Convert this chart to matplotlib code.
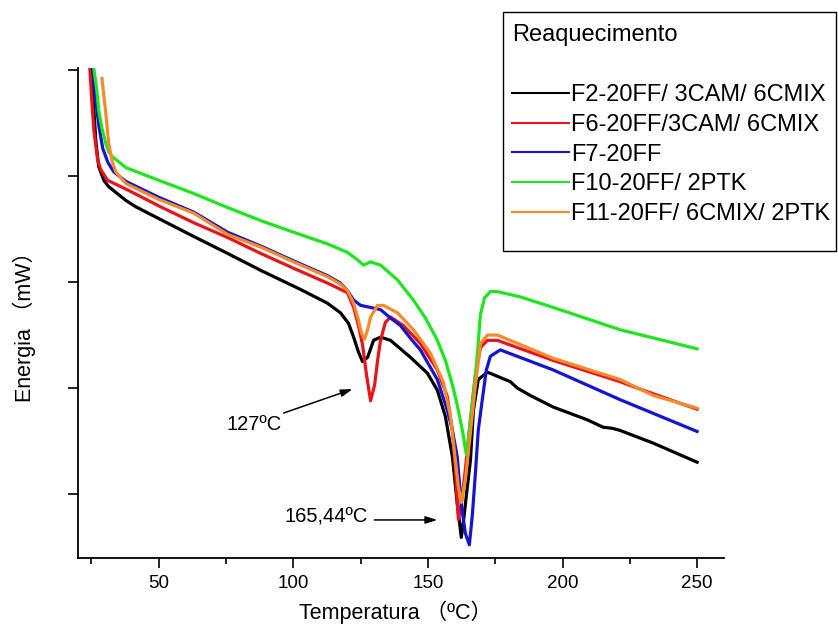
"""
Reaquecimento DSC curves (energia vs temperatura).
"""

import matplotlib
matplotlib.use("Agg")
import matplotlib.pyplot as plt
from matplotlib.lines import Line2D
from matplotlib.patches import Rectangle
from matplotlib.ticker import MultipleLocator, NullFormatter

plt.rcParams["font.family"] = ["Liberation Sans", "Noto Sans CJK SC"]

labels = [
    "F2-20FF/ 3CAM/ 6CMIX",
    "F6-20FF/3CAM/ 6CMIX",
    "F7-20FF",
    "F10-20FF/ 2PTK",
    "F11-20FF/ 6CMIX/ 2PTK",
]
colors = ["#000000", "#e8141c", "#1414d2", "#1ee61e", "#f58a2a"]

# F2-20FF/ 3CAM/ 6CMIX
t_f2 = [24.8, 25.9, 26.6, 27.7, 29.6, 31.4, 37.8, 41.5, 50.7, 63.0, 75.6, 87.9,
        102.7, 112.7, 117.5, 120.5, 122.4, 124.2, 125.7, 127.6, 129.8, 132.4,
        136.1, 143.5, 149.8, 153.5, 156.5, 159.1, 160.9, 162.4, 163.2, 164.3,
        165.8, 166.9, 168.7, 172.1, 180.6, 183.2, 188.0, 196.6, 209.2, 215.1,
        218.5, 221.4, 233.7, 250.0]
e_f2 = [4.01, 3.62, 3.34, 3.09, 2.96, 2.90, 2.77, 2.71, 2.59, 2.43, 2.27, 2.11,
        1.93, 1.80, 1.71, 1.61, 1.48, 1.34, 1.25, 1.29, 1.45, 1.48,
        1.45, 1.29, 1.14, 0.98, 0.73, 0.35, -0.09, -0.41, -0.26, -0.01,
        0.32, 0.79, 1.08, 1.15, 1.06, 1.00, 0.93, 0.82, 0.70, 0.63,
        0.62, 0.60, 0.48, 0.30]

# F6-20FF/3CAM/ 6CMIX
t_f6 = [24.4, 25.1, 25.9, 27.3, 28.5, 31.0, 38.4, 50.7, 63.0, 75.6, 87.9, 100.1,
        112.7, 120.1, 122.4, 124.2, 125.7, 127.2, 128.7, 130.2, 131.3, 132.4,
        134.2, 136.1, 140.9, 147.2, 153.5, 157.2, 159.1, 160.2, 161.3, 162.4,
        163.9, 165.8, 167.6, 169.5, 172.1, 175.8, 196.6, 221.4, 227.7, 250.0]
e_f6 = [4.02, 3.72, 3.43, 3.15, 3.06, 2.96, 2.87, 2.71, 2.56, 2.42, 2.27, 2.13,
        1.99, 1.90, 1.76, 1.59, 1.41, 1.12, 0.88, 1.03, 1.26, 1.45,
        1.62, 1.67, 1.59, 1.42, 1.17, 0.92, 0.60, 0.23, -0.24, -0.10,
        0.23, 0.70, 1.12, 1.38, 1.45, 1.45, 1.26, 1.06, 1.00, 0.80]

# F7-20FF
t_f7 = [25.5, 26.6, 27.7, 29.2, 31.1, 33.3, 37.8, 50.0, 63.0, 75.6, 87.9, 100.1,
        112.7, 117.5, 120.1, 122.4, 125.0, 128.7, 132.4, 136.1, 139.8, 143.5,
        147.2, 153.5, 157.2, 159.1, 160.9, 162.4, 163.9, 165.4, 166.5, 167.6,
        168.7, 170.2, 171.7, 173.2, 176.9, 196.6, 221.4, 250.0]
e_f7 = [4.01, 3.72, 3.48, 3.26, 3.13, 3.04, 2.95, 2.80, 2.66, 2.47, 2.34, 2.20,
        2.06, 1.99, 1.92, 1.83, 1.78, 1.76, 1.74, 1.66, 1.59, 1.47,
        1.36, 1.08, 0.79, 0.60, 0.35, -0.10, -0.37, -0.48, -0.20, 0.18,
        0.60, 0.89, 1.17, 1.30, 1.36, 1.17, 0.89, 0.59]

# F10-20FF/ 2PTK
t_f10 = [25.9, 27.0, 27.7, 28.9, 30.3, 31.4, 32.9, 37.8, 50.0, 62.6, 74.9, 87.9,
         100.1, 112.7, 120.1, 123.8, 126.1, 128.7, 132.4, 138.7, 144.6, 149.1,
         153.5, 156.5, 159.1, 160.9, 162.8, 164.3, 165.0, 165.8, 167.3, 168.4,
         169.5, 171.0, 173.2, 175.8, 184.3, 196.6, 221.4, 250.0]
e_f10 = [4.01, 3.81, 3.62, 3.45, 3.31, 3.23, 3.18, 3.08, 2.96, 2.84, 2.71, 2.58,
         2.47, 2.36, 2.28, 2.21, 2.16, 2.19, 2.16, 2.02, 1.83, 1.66,
         1.45, 1.26, 1.03, 0.84, 0.60, 0.37, 0.51, 0.70, 1.03, 1.33,
         1.69, 1.85, 1.91, 1.91, 1.86, 1.76, 1.55, 1.37]

# F11-20FF/ 6CMIX/ 2PTK
t_f11 = [28.9, 29.6, 30.3, 31.4, 32.6, 34.0, 37.8, 50.0, 63.0, 75.6, 87.9, 100.1,
         112.7, 117.5, 120.1, 122.4, 124.2, 125.3, 126.4, 127.6, 128.7, 131.3,
         133.5, 138.7, 144.6, 150.9, 155.8, 158.4, 160.2, 161.3, 162.4, 163.9,
         165.0, 166.5, 167.6, 169.5, 172.1, 175.8, 196.6, 221.4, 233.7, 250.0]
e_f11 = [3.92, 3.76, 3.60, 3.31, 3.15, 3.04, 2.93, 2.78, 2.65, 2.45, 2.33, 2.19,
         2.05, 1.98, 1.92, 1.80, 1.64, 1.52, 1.46, 1.55, 1.67, 1.78,
         1.78, 1.71, 1.55, 1.33, 1.05, 0.73, 0.32, 0.07, -0.08, 0.13,
         0.39, 0.75, 1.01, 1.42, 1.50, 1.50, 1.28, 1.08, 0.93, 0.81]

series_t = [t_f2, t_f6, t_f7, t_f10, t_f11]
series_e = [e_f2, e_f6, e_f7, e_f10, e_f11]

fig = plt.figure(figsize=(8.38, 6.33), dpi=100)
ax = fig.add_axes([78 / 838, 1 - 558 / 633, 646 / 838, 490 / 633])

for t, e, c in zip(series_t, series_e, colors):
    ax.plot(t, e, color=c, linewidth=2.3, solid_joinstyle="round")

ax.set_xlim(20, 260)
ax.set_ylim(-0.604, 4.02)
ax.spines["top"].set_visible(False)
ax.spines["right"].set_visible(False)
for s in ("left", "bottom"):
    ax.spines[s].set_linewidth(1.3)

ax.xaxis.set_major_locator(MultipleLocator(50))
ax.xaxis.set_minor_locator(MultipleLocator(25))
ax.yaxis.set_major_locator(MultipleLocator(2))
ax.yaxis.set_minor_locator(MultipleLocator(1))
ax.yaxis.set_major_formatter(NullFormatter())
ax.tick_params(axis="x", which="major", length=7, width=1.2, labelsize=13.5, pad=5)
ax.tick_params(axis="x", which="minor", length=4, width=1.2)
ax.tick_params(axis="y", which="both", length=7, width=1.2)

fig.text(395 / 838, 1 - 612 / 633, "Temperatura （ºC）", fontsize=15.5,
         ha="center", va="center")
fig.text(24 / 838, 1 - 322 / 633, "Energia （mW）", fontsize=15.5,
         ha="center", va="center", rotation=90)

# peak annotations
ax.text(85.3, 0.66, "127ºC", fontsize=14.5, ha="center", va="center")
ax.annotate("", xy=(122.0, 0.99), xytext=(96.4, 0.764),
            arrowprops=dict(arrowstyle="-|>,head_length=0.7,head_width=0.22",
                            color="black", lw=1.1, shrinkA=0, shrinkB=0))
ax.text(112.3, -0.217, "165,44ºC", fontsize=14.5, ha="center", va="center")
ax.annotate("", xy=(153.5, -0.245), xytext=(130.1, -0.245),
            arrowprops=dict(arrowstyle="-|>,head_length=0.7,head_width=0.22",
                            color="black", lw=1.1, shrinkA=0, shrinkB=0))

# legend box drawn separately so its height matches the original
fig.add_artist(Rectangle((503 / 838, 1 - 251 / 633), 333 / 838, 239 / 633,
                         transform=fig.transFigure, fill=False,
                         edgecolor="black", linewidth=1.0))
handles = [Line2D([], [], color="none")]
handles += [Line2D([], [], color=c, linewidth=1.5) for c in colors]
leg = fig.legend(handles, [""] + labels, title="Reaquecimento",
                 loc="upper left", bbox_to_anchor=(503 / 838, 1 - 15 / 633, 333 / 838, 0.0),
                 mode="expand", fontsize=17, title_fontsize=17, alignment="left",
                 frameon=False, handlelength=2.4, handletextpad=0.1,
                 labelspacing=0.33, borderpad=0.4, borderaxespad=0)

fig.savefig("out.png", dpi=100)
